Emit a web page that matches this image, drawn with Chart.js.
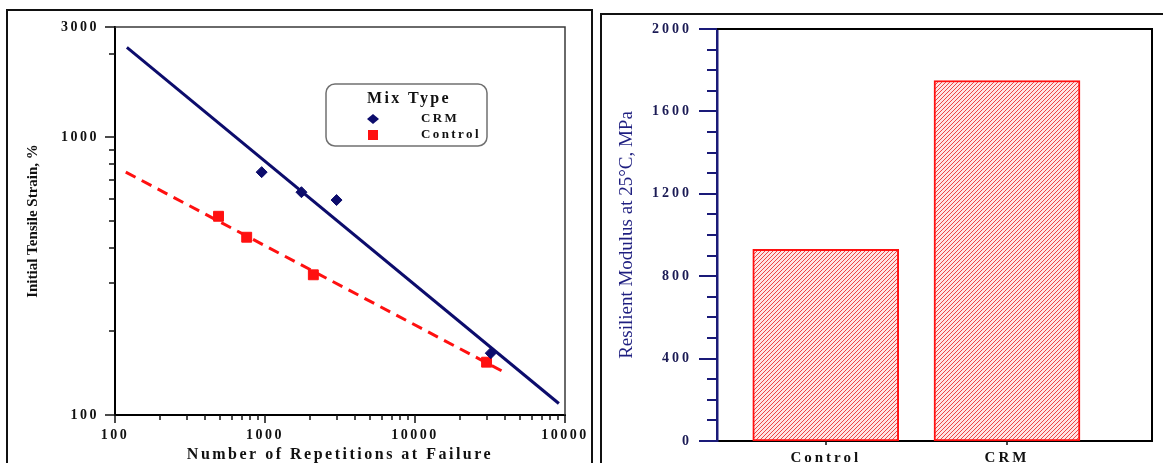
<!DOCTYPE html>
<html>
<head>
<meta charset="utf-8">
<script src="https://cdn.jsdelivr.net/npm/chart.js@4.4.1/dist/chart.umd.min.js"></script>
<style>
  html, body { margin: 0; padding: 0; background: #fff; }
  body { width: 1163px; height: 463px; position: relative; overflow: hidden; }
  .frame { position: absolute; border: 2px solid #111; box-sizing: border-box; }
  canvas { position: absolute; top: 0; }
</style>
</head>
<body>
<div class="frame" style="left:6px; top:9px; width:587px; height:480px;"></div>
<div class="frame" style="left:600px; top:13px; width:600px; height:480px;"></div>
<canvas id="fatigue" width="600" height="463" style="left:0"></canvas>
<canvas id="modulus" width="563" height="463" style="left:600px"></canvas>
<script>
// Fatigue results: initial tensile strain against repetitions to failure
const crmCycles = [950, 1750, 3000, 32000];
const crmStrain = [750, 635, 595, 167];
const controlCycles = [490, 755, 2100, 30000];
const controlStrain = [520, 437, 320, 155];

// End points of the fitted fatigue lines
const crmFitCycles = [120, 91000];
const crmFitStrain = [2110, 110];
const controlFitCycles = [118, 41000];
const controlFitStrain = [750, 141];

// Labelled positions on the log axes
const cycleTicks = [100, 1000, 10000, 100000];
const cycleTickLabels = ['100', '1000', '10000', '10000'];
const strainTicks = [100, 1000, 2500];
const strainTickLabels = ['100', '1000', '3000'];

// Resilient modulus at 25°C per mix
const mixTypes = ['Control', 'CRM'];
const resilientModulus = [930, 1750];
const modulusTicks = [0, 400, 800, 1200, 1600, 2000];

const SERIF = "'Liberation Serif', 'Times New Roman', serif";
const NAVY = '#0c0c6c';
const RED = '#ff1010';

const pts = (xs, ys) => xs.map((x, i) => ({ x, y: ys[i] }));

// majors from the list, 2..9 minors in every decade
function logTicks(min, max, majors) {
  const ticks = majors.map(v => ({ value: v, major: true }));
  for (let d = min; d < max; d *= 10) {
    for (let m = 2; m <= 9; m++) {
      const v = m * d;
      if (v < max && !majors.includes(v)) ticks.push({ value: v, major: false });
    }
  }
  return ticks.sort((a, b) => a.value - b.value);
}

function fixBox(w, h) {
  return s => {
    if (w != null) s.width = w;
    if (h != null) s.height = h;
    s.paddingLeft = s.paddingRight = s.paddingTop = s.paddingBottom = 0;
  };
}

// wide-set lettering for the horizontal labels
const spacedText = px => ({
  id: 'spacedText',
  beforeDraw(chart) { chart.ctx.letterSpacing = px + 'px'; },
  afterDraw(chart) { chart.ctx.letterSpacing = '0px'; }
});

// rotated y-axis title, set tight
function sideTitle(axis, text, font, color, offset) {
  return {
    id: 'sideTitle',
    afterDraw(chart) {
      const s = chart.scales[axis], a = chart.chartArea, ctx = chart.ctx;
      ctx.save();
      ctx.letterSpacing = '0px';
      ctx.translate(s.left + offset, (a.top + a.bottom) / 2);
      ctx.rotate(-Math.PI / 2);
      ctx.font = font;
      ctx.fillStyle = color;
      ctx.textAlign = 'center';
      ctx.textBaseline = 'middle';
      ctx.fillText(text, 0, 0);
      ctx.restore();
    }
  };
}

// outward tick marks, long for majors and short for minors
function tickMarks(specs) {
  return {
    id: 'tickMarks',
    afterDatasetsDraw(chart) {
      const ctx = chart.ctx;
      specs.forEach(sp => {
        const s = chart.scales[sp.axis];
        ctx.save();
        ctx.strokeStyle = sp.color;
        ctx.lineWidth = sp.width;
        ctx.beginPath();
        s.ticks.forEach(t => {
          const len = t.major ? sp.major : sp.minor;
          if (!len) return;
          const p = Math.round(s.getPixelForValue(t.value));
          if (s.isHorizontal()) {
            ctx.moveTo(p, s.top);
            ctx.lineTo(p, s.top + len);
          } else {
            ctx.moveTo(s.right, p);
            ctx.lineTo(s.right - len, p);
          }
        });
        ctx.stroke();
        ctx.restore();
      });
    }
  };
}

// top and right edges of the plot box
function boxEdges(color, width) {
  return {
    id: 'boxEdges',
    beforeDatasetsDraw(chart) {
      const { ctx, chartArea: a } = chart;
      ctx.save();
      ctx.strokeStyle = color;
      ctx.lineWidth = width;
      ctx.beginPath();
      ctx.moveTo(a.left, a.top);
      ctx.lineTo(a.right, a.top);
      ctx.lineTo(a.right, a.bottom);
      ctx.stroke();
      ctx.restore();
    }
  };
}

// "Mix Type" key inside the fatigue plot
const mixLegend = {
  id: 'mixLegend',
  afterDraw(chart) {
    const { ctx, chartArea: a } = chart;
    const x = a.left + 211, y = a.top + 57, w = 161, h = 62;
    ctx.save();
    ctx.strokeStyle = '#707070';
    ctx.lineWidth = 1.5;
    ctx.beginPath();
    ctx.roundRect(x, y, w, h, 9);
    ctx.stroke();
    ctx.letterSpacing = '2.4px';
    ctx.fillStyle = '#111';
    ctx.textBaseline = 'middle';
    ctx.textAlign = 'center';
    ctx.font = `bold 16px ${SERIF}`;
    ctx.fillText('Mix Type', x + 83, y + 15);
    ctx.textAlign = 'left';
    ctx.font = `bold 13px ${SERIF}`;
    chart.data.datasets.slice(0, 2).forEach((ds, i) => {
      const mx = x + 47, my = y + 35 + i * 16;
      ctx.fillStyle = ds.backgroundColor;
      ctx.beginPath();
      if (ds.pointStyle === 'rectRot') {
        ctx.moveTo(mx, my - 5); ctx.lineTo(mx + 6, my); ctx.lineTo(mx, my + 5); ctx.lineTo(mx - 6, my);
      } else {
        ctx.rect(mx - 5, my - 5, 10, 10);
      }
      ctx.fill();
      ctx.fillStyle = '#111';
      ctx.fillText(ds.label, x + 95, my);
    });
    ctx.restore();
  }
};

// pale red tile crossed by one diagonal stroke
function hatch(tint, color) {
  const c = document.createElement('canvas');
  c.width = c.height = 4;
  const g = c.getContext('2d');
  g.fillStyle = tint;
  g.fillRect(0, 0, 4, 4);
  g.strokeStyle = color;
  g.lineWidth = 1;
  g.beginPath();
  g.moveTo(0, 4); g.lineTo(4, 0);
  g.moveTo(-1, 1); g.lineTo(1, -1);
  g.moveTo(3, 5); g.lineTo(5, 3);
  g.stroke();
  return g.createPattern(c, 'repeat');
}

const tickFont = size => ({ family: SERIF, weight: 'bold', size });

new Chart(document.getElementById('fatigue'), {
  type: 'scatter',
  data: {
    datasets: [
      { label: 'CRM', data: pts(crmCycles, crmStrain), pointStyle: 'rectRot', pointRadius: 5.5,
        backgroundColor: NAVY, borderColor: NAVY, order: 0 },
      { label: 'Control', data: pts(controlCycles, controlStrain), pointStyle: 'rect', pointRadius: 7,
        backgroundColor: RED, borderColor: RED, order: 0 },
      { label: 'CRM fit', data: pts(crmFitCycles, crmFitStrain), showLine: true, pointRadius: 0,
        borderColor: NAVY, borderWidth: 3, order: 1 },
      { label: 'Control fit', data: pts(controlFitCycles, controlFitStrain), showLine: true, pointRadius: 0,
        borderColor: RED, borderWidth: 3, borderDash: [11, 7], order: 1 }
    ]
  },
  options: {
    responsive: false,
    animation: false,
    layout: { padding: { top: 27, right: 35, left: 0, bottom: 0 } },
    plugins: { legend: { display: false }, tooltip: { enabled: false } },
    scales: {
      x: {
        type: 'logarithmic', min: 100, max: 100000,
        afterBuildTicks: s => { s.ticks = logTicks(100, 100000, cycleTicks); },
        afterFit: fixBox(null, 48),
        grid: { display: false, drawTicks: false },
        border: { color: '#000', width: 2 },
        ticks: {
          autoSkip: false, maxRotation: 0, padding: 12, color: '#111', font: tickFont(14),
          callback: v => { const i = cycleTicks.indexOf(v); return i < 0 ? '' : cycleTickLabels[i]; }
        },
        title: { display: true, text: 'Number of Repetitions at Failure', color: '#111',
          font: { family: SERIF, weight: 'bold', size: 16, lineHeight: 1 }, padding: { top: 0, bottom: 0 } }
      },
      y: {
        type: 'logarithmic', min: 100, max: 2500,
        afterBuildTicks: s => { s.ticks = logTicks(100, 2500, strainTicks); },
        afterFit: fixBox(115, null),
        grid: { display: false, drawTicks: false },
        border: { color: '#000', width: 2 },
        ticks: {
          autoSkip: false, padding: 16, color: '#111', font: tickFont(14),
          callback: v => { const i = strainTicks.indexOf(v); return i < 0 ? '' : strainTickLabels[i]; }
        }
      }
    }
  },
  plugins: [
    spacedText(2.5),
    boxEdges('#3a3a3a', 1.5),
    tickMarks([
      { axis: 'x', major: 8, minor: 5, color: '#111', width: 1.5 },
      { axis: 'y', major: 10, minor: 6, color: '#111', width: 1.5 }
    ]),
    sideTitle('y', 'Initial Tensile Strain, %', `bold 15px ${SERIF}`, '#111', 33),
    mixLegend
  ]
});

new Chart(document.getElementById('modulus'), {
  type: 'bar',
  data: {
    datasets: [{
      label: 'Resilient Modulus',
      data: mixTypes.map((m, i) => ({ x: i + 1, y: resilientModulus[i] })),
      backgroundColor: hatch('rgb(255, 228, 228)', 'rgb(236, 70, 70)'),
      borderColor: RED,
      borderWidth: 2,
      borderSkipped: false,
      barThickness: 146
    }]
  },
  options: {
    responsive: false,
    animation: false,
    layout: { padding: { top: 29, right: 11, left: 0, bottom: 0 } },
    plugins: { legend: { display: false }, tooltip: { enabled: false } },
    scales: {
      x: {
        type: 'linear', min: 0.4, max: 2.8, offset: false,
        afterBuildTicks: s => { s.ticks = mixTypes.map((m, i) => ({ value: i + 1, major: true })); },
        afterFit: fixBox(null, 22),
        grid: { display: false, drawTicks: false },
        border: { color: '#000', width: 2 },
        ticks: {
          autoSkip: false, maxRotation: 0, padding: 8, color: '#111', font: tickFont(15),
          callback: v => mixTypes[v - 1]
        }
      },
      y: {
        type: 'linear', min: 0, max: 2000,
        ticks: {
          stepSize: 100, autoSkip: false, padding: 25, color: '#1b1b55', font: tickFont(14),
          callback: v => modulusTicks.includes(v) ? String(v) : ''
        },
        afterBuildTicks: s => { s.ticks.forEach(t => { t.major = modulusTicks.includes(t.value); }); },
        afterFit: fixBox(117, null),
        grid: { display: false, drawTicks: false },
        border: { color: '#1a1a78', width: 2.5 }
      }
    }
  },
  plugins: [
    spacedText(3),
    boxEdges('#000', 2),
    tickMarks([
      { axis: 'x', major: 4, minor: 0, color: '#111', width: 1.5 },
      { axis: 'y', major: 18, minor: 10, color: '#1a1a78', width: 2 }
    ]),
    sideTitle('y', 'Resilient Modulus at 25°C, MPa', `19px ${SERIF}`, '#1f1f80', 27)
  ]
});
</script>
</body>
</html>
